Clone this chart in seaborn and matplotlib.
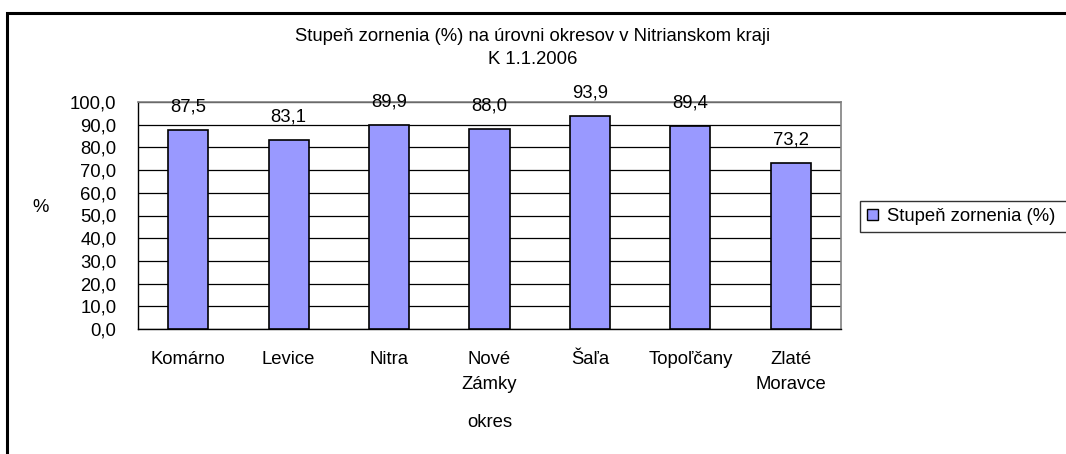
import matplotlib
matplotlib.use("Agg")
import matplotlib.pyplot as plt
import matplotlib.patches as mpatches
from matplotlib.ticker import FuncFormatter, FixedLocator
import seaborn as sns
import pandas as pd

# data
districts = ["Komárno", "Levice", "Nitra", "Nové\nZámky", "Šaľa", "Topoľčany", "Zlaté\nMoravce"]
values = [87.5, 83.1, 89.9, 88.0, 93.9, 89.4, 73.2]
series_name = "Stupeň zornenia (%)"
title = "Stupeň zornenia (%) na úrovni okresov v Nitrianskom kraji\nK 1.1.2006"

df = pd.DataFrame({"okres": districts, "val": values})

sns.set_style("white")
plt.rcParams["font.family"] = ["Liberation Sans", "DejaVu Sans"]
fs = 13.3
plt.rcParams["font.size"] = fs
for k in ["text.color", "axes.labelcolor", "xtick.color", "ytick.color"]:
    plt.rcParams[k] = "black"

fig = plt.figure(figsize=(10.66, 4.54), dpi=100)
ax = fig.add_axes([138 / 1066, 1 - 329 / 454, 703 / 1066, 227 / 454])

bar_color = "#9999FF"
sns.barplot(data=df, x="okres", y="val", color=bar_color, saturation=1,
            width=0.4, edgecolor="black", linewidth=1.2, ax=ax, zorder=3)

# value labels above the bars
for i, v in enumerate(values):
    ax.annotate(f"{v:.1f}".replace(".", ","), (i, v), xytext=(0, 16.5),
                textcoords="offset points", ha="center", va="center", fontsize=fs)

ax.set_ylim(0, 100)
ax.set_xlim(-0.5, len(districts) - 0.5)
ax.set_yticks(range(0, 101, 10))
ax.yaxis.set_major_formatter(FuncFormatter(lambda y, _: f"{y:.1f}".replace(".", ",")))

ax.set_axisbelow(True)
ax.yaxis.grid(True, color="black", linewidth=0.9)
ax.xaxis.grid(False)

# ticks between categories, labels centred under bars
ax.xaxis.set_minor_locator(FixedLocator([i - 0.5 for i in range(len(districts) + 1)]))
ax.tick_params(axis="x", which="major", length=0, pad=16, labelsize=fs)
ax.tick_params(axis="x", which="minor", length=3, width=1, direction="out", color="black")
ax.tick_params(axis="y", which="major", length=3, width=1, direction="out", pad=12.5,
               color="black", labelsize=fs)
for lbl in ax.get_xticklabels():
    lbl.set_linespacing(1.6)

for s in ["left", "bottom"]:
    ax.spines[s].set_color("black")
    ax.spines[s].set_linewidth(1)
for s in ["top", "right"]:
    ax.spines[s].set_color("#808080")
    ax.spines[s].set_linewidth(1.2)

ax.set_ylabel("%", rotation=0, va="center", ha="center", fontsize=fs)
ax.yaxis.set_label_coords(-0.139, 0.537)
ax.set_xlabel("okres", va="center", fontsize=fs)
ax.xaxis.set_label_coords(0.5, -0.41)

ax.set_title(title, x=0.5619, y=1.238, va="center", pad=0, fontsize=fs, linespacing=1.45)

# legend box runs past the right edge of the picture, as in the reference
handle = mpatches.Patch(facecolor=bar_color, edgecolor="black", linewidth=1, label=series_name)
leg = ax.legend(handles=[handle], loc="center left", mode="expand",
                bbox_to_anchor=(860 / 1066, 1 - 233 / 454, 220 / 1066, 33 / 454),
                bbox_transform=fig.transFigure,
                frameon=True, fancybox=False, handlelength=0.55, handleheight=0.55,
                handletextpad=0.5, borderpad=0.4, borderaxespad=0, fontsize=fs)
leg.get_frame().set_edgecolor("black")
leg.get_frame().set_linewidth(1)

# outer chart frame (cut off at right and bottom like the reference)
frame = mpatches.Rectangle((7 / 1066, -0.1), 1.2, 1.1 - 13 / 454, transform=fig.transFigure,
                           fill=False, edgecolor="black", linewidth=2.2, clip_on=False)
fig.patches.append(frame)

fig.savefig("out.png", dpi=100)
